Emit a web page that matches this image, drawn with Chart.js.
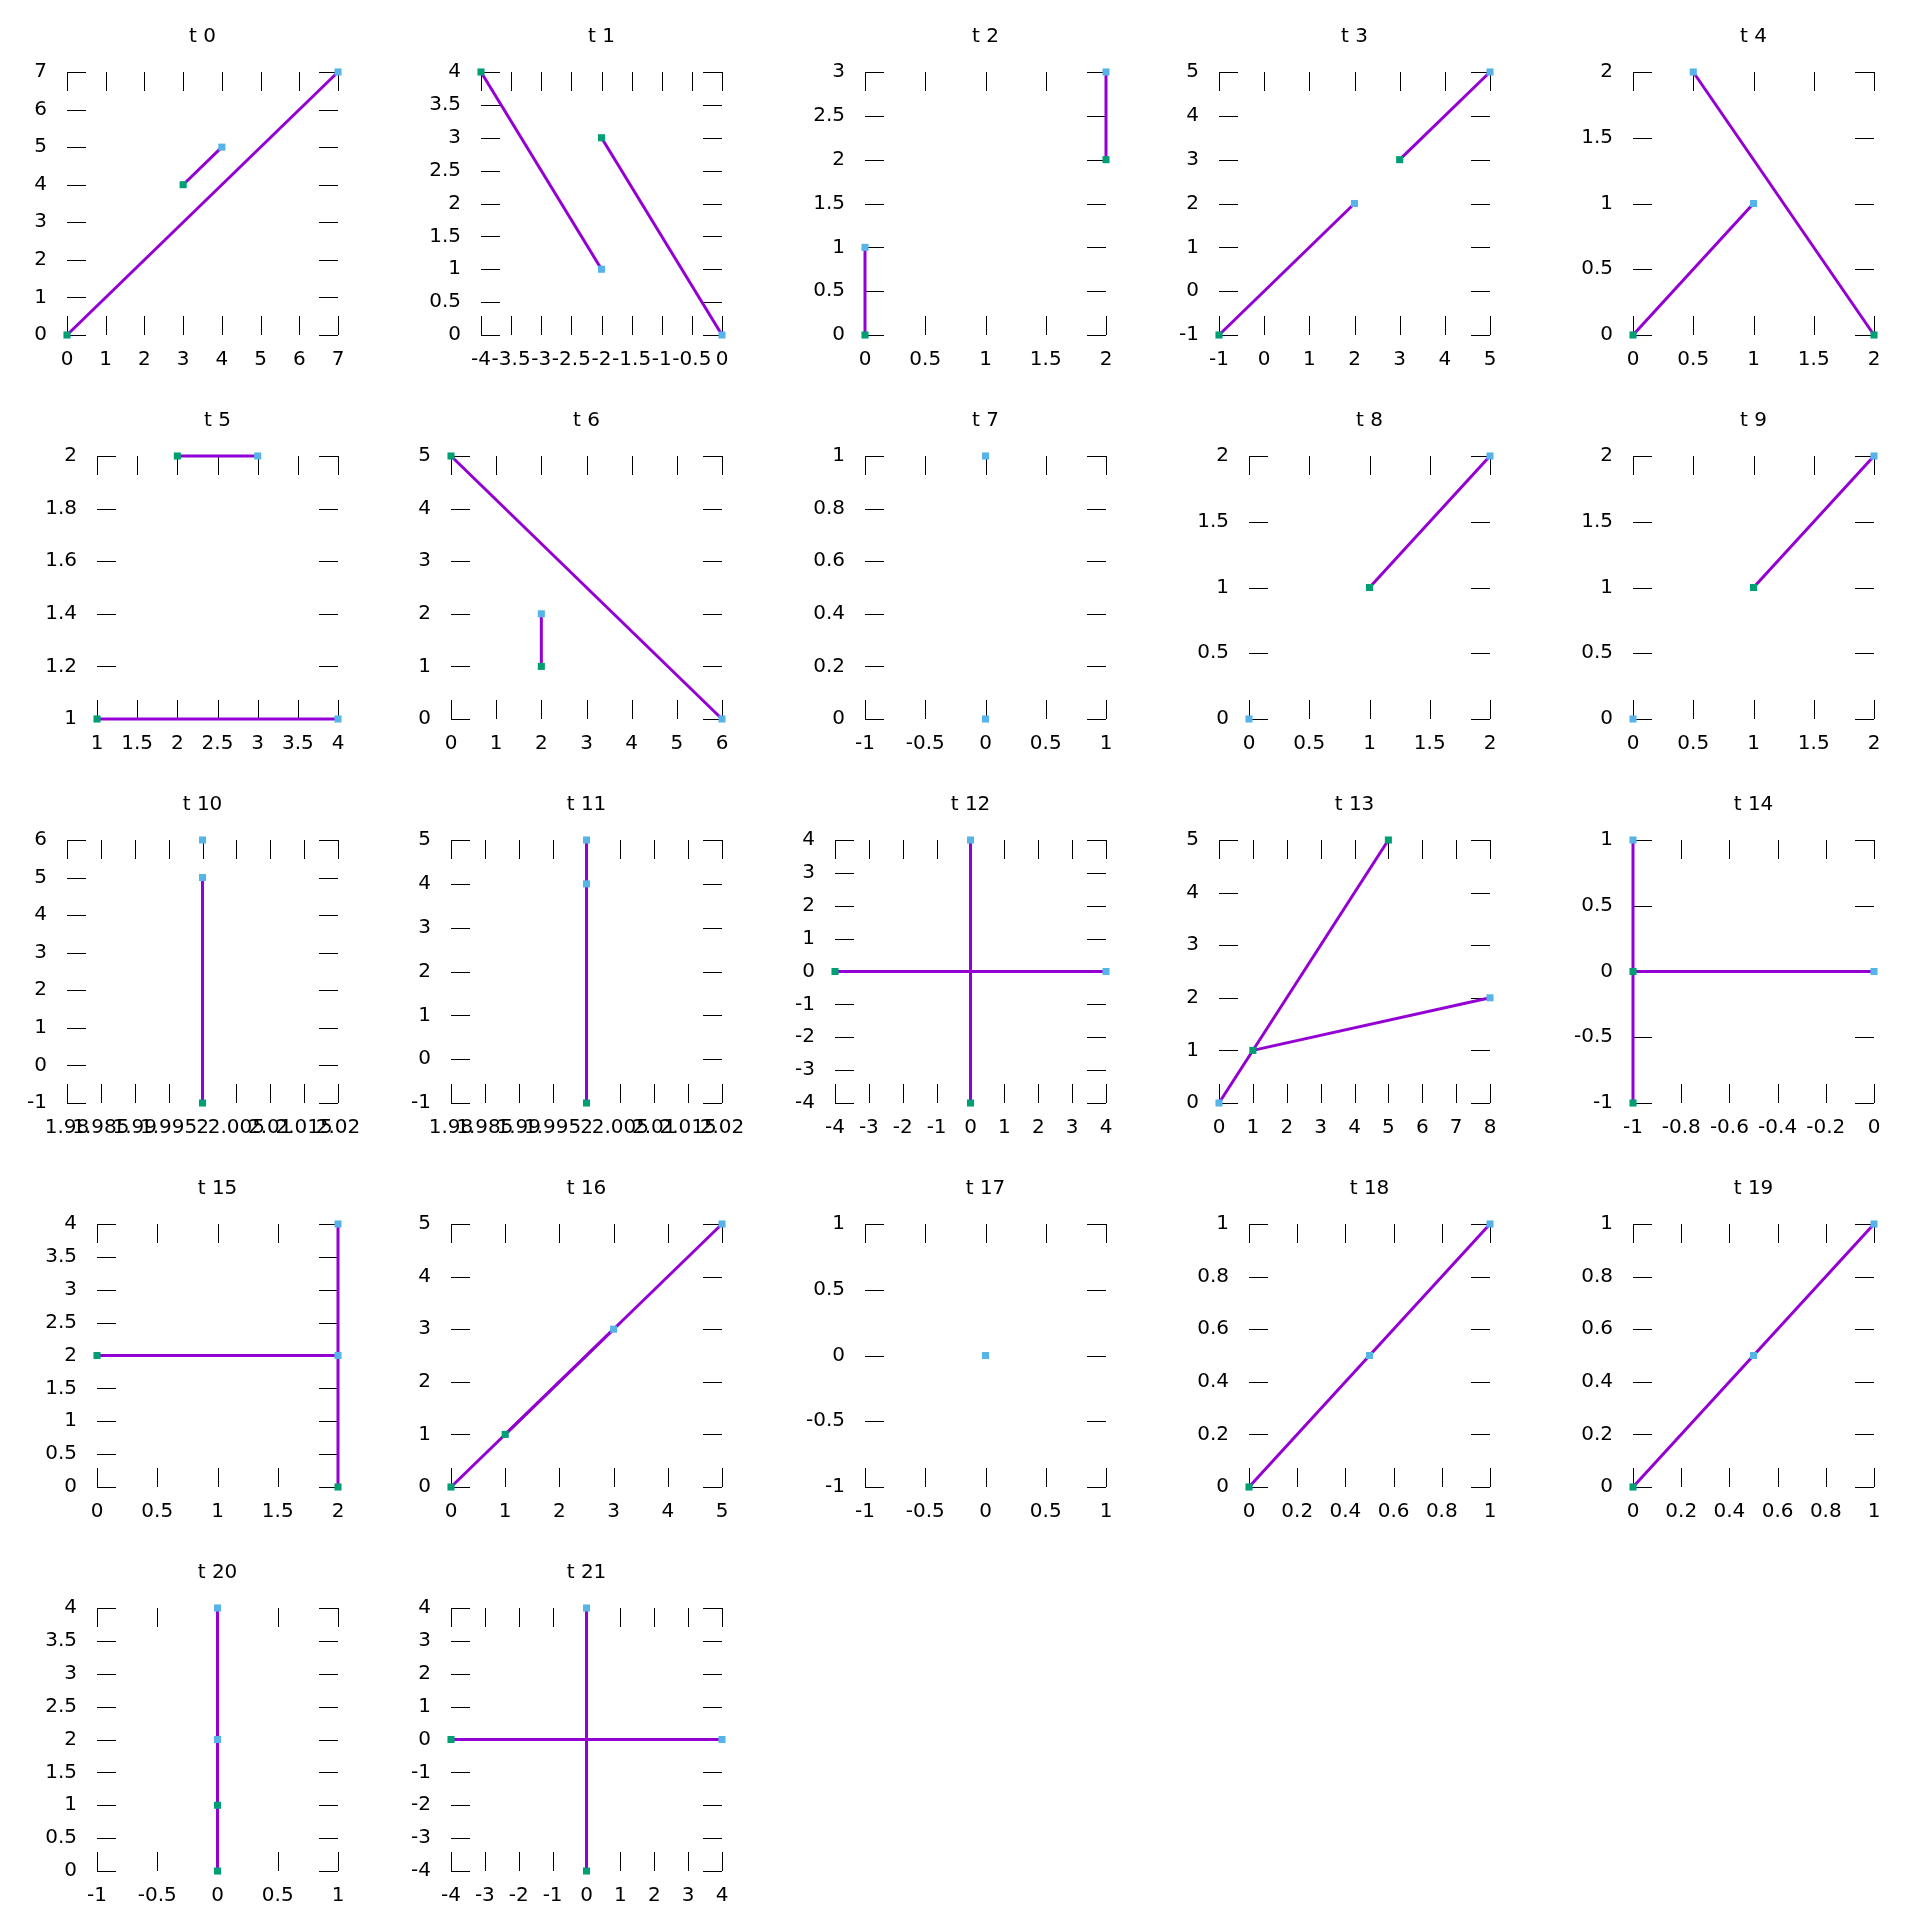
<!DOCTYPE html>
<html>
<head>
<meta charset="utf-8">
<title>t 0 - t 21</title>
<script src="https://cdn.jsdelivr.net/npm/chart.js@4.4.1/dist/chart.umd.min.js"></script>
<style>
  html, body { margin: 0; padding: 0; background: #fff; }
  #grid { position: relative; width: 1920px; height: 1920px; background: #fff; }
  #grid canvas { position: absolute; }
</style>
</head>
<body>
<div id="grid"></div>
<script>
// Títulos de cada panel
const titulos = ['t 0','t 1','t 2','t 3','t 4','t 5','t 6','t 7','t 8','t 9','t 10',
                 't 11','t 12','t 13','t 14','t 15','t 16','t 17','t 18','t 19','t 20','t 21'];

// Marcas del eje X de cada panel (el primero y el último son los límites)
const xTicks = [
  [0,1,2,3,4,5,6,7],
  [-4,-3.5,-3,-2.5,-2,-1.5,-1,-0.5,0],
  [0,0.5,1,1.5,2],
  [-1,0,1,2,3,4,5],
  [0,0.5,1,1.5,2],
  [1,1.5,2,2.5,3,3.5,4],
  [0,1,2,3,4,5,6],
  [-1,-0.5,0,0.5,1],
  [0,0.5,1,1.5,2],
  [0,0.5,1,1.5,2],
  [1.98,1.985,1.99,1.995,2,2.005,2.01,2.015,2.02],
  [1.98,1.985,1.99,1.995,2,2.005,2.01,2.015,2.02],
  [-4,-3,-2,-1,0,1,2,3,4],
  [0,1,2,3,4,5,6,7,8],
  [-1,-0.8,-0.6,-0.4,-0.2,0],
  [0,0.5,1,1.5,2],
  [0,1,2,3,4,5],
  [-1,-0.5,0,0.5,1],
  [0,0.2,0.4,0.6,0.8,1],
  [0,0.2,0.4,0.6,0.8,1],
  [-1,-0.5,0,0.5,1],
  [-4,-3,-2,-1,0,1,2,3,4]
];

// Marcas del eje Y de cada panel
const yTicks = [
  [0,1,2,3,4,5,6,7],
  [0,0.5,1,1.5,2,2.5,3,3.5,4],
  [0,0.5,1,1.5,2,2.5,3],
  [-1,0,1,2,3,4,5],
  [0,0.5,1,1.5,2],
  [1,1.2,1.4,1.6,1.8,2],
  [0,1,2,3,4,5],
  [0,0.2,0.4,0.6,0.8,1],
  [0,0.5,1,1.5,2],
  [0,0.5,1,1.5,2],
  [-1,0,1,2,3,4,5,6],
  [-1,0,1,2,3,4,5],
  [-4,-3,-2,-1,0,1,2,3,4],
  [0,1,2,3,4,5],
  [-1,-0.5,0,0.5,1],
  [0,0.5,1,1.5,2,2.5,3,3.5,4],
  [0,1,2,3,4,5],
  [-1,-0.5,0,0.5,1],
  [0,0.2,0.4,0.6,0.8,1],
  [0,0.2,0.4,0.6,0.8,1],
  [0,0.5,1,1.5,2,2.5,3,3.5,4],
  [-4,-3,-2,-1,0,1,2,3,4]
];

// Segmentos [x1, y1, x2, y2]: inicio en verde, fin en azul
const segmentos = [
  [[0,0,7,7],[3,4,4,5]],
  [[-4,4,-2,1],[-2,3,0,0]],
  [[0,0,0,1],[2,2,2,3]],
  [[-1,-1,2,2],[3,3,5,5]],
  [[0,0,1,1],[2,0,0.5,2]],
  [[1,1,4,1],[2,2,3,2]],
  [[0,5,6,0],[2,1,2,2]],
  [],
  [[1,1,2,2]],
  [[1,1,2,2]],
  [[2,-1,2,5]],
  [[2,-1,2,5]],
  [[-4,0,4,0],[0,-4,0,4]],
  [[5,5,0,0],[1,1,8,2]],
  [[-1,-1,-1,1],[-1,0,0,0]],
  [[0,2,2,2],[2,0,2,4]],
  [[0,0,5,5],[1,1,3,3]],
  [],
  [[0,0,1,1]],
  [[0,0,1,1]],
  [[0,0,0,4],[0,1,0,2]],
  [[-4,0,4,0],[0,-4,0,4]]
];

// Puntos azules sin segmento
const puntosSueltos = [
  [], [], [], [], [], [], [],
  [[0,0],[0,1]],
  [[0,0]],
  [[0,0]],
  [[2,6]],
  [[2,4]],
  [], [], [], [], [],
  [[0,0]],
  [[0.5,0.5]],
  [[0.5,0.5]],
  [], []
];

const MORADO = '#9400d3';
const VERDE = '#009e73';
const AZUL = '#56b4e9';
const PANEL = 384;
const LARGO_TICK = 19;

Chart.defaults.font.family = "'DejaVu Sans', sans-serif";
Chart.defaults.font.size = 20;
Chart.defaults.color = '#000';

// Ticks hacia dentro en los cuatro lados, como en gnuplot
const ticksDentro = {
  id: 'ticksDentro',
  beforeDatasetsDraw(chart) {
    const {ctx, chartArea: a, scales: {x, y}} = chart;
    ctx.save();
    ctx.strokeStyle = '#000';
    ctx.lineWidth = 1;
    ctx.beginPath();
    x.ticks.forEach(t => {
      const px = Math.round(x.getPixelForValue(t.value)) + 0.5;
      ctx.moveTo(px, a.bottom); ctx.lineTo(px, a.bottom - LARGO_TICK);
      ctx.moveTo(px, a.top); ctx.lineTo(px, a.top + LARGO_TICK);
    });
    y.ticks.forEach(t => {
      const py = Math.round(y.getPixelForValue(t.value)) + 0.5;
      ctx.moveTo(a.left, py); ctx.lineTo(a.left + LARGO_TICK, py);
      ctx.moveTo(a.right, py); ctx.lineTo(a.right - LARGO_TICK, py);
    });
    ctx.stroke();
    ctx.restore();
  }
};

const grid = document.getElementById('grid');

titulos.forEach((titulo, i) => {
  const canvas = document.createElement('canvas');
  canvas.width = PANEL;
  canvas.height = PANEL;
  canvas.style.left = (i % 5) * PANEL + 'px';
  canvas.style.top = Math.floor(i / 5) * PANEL + 'px';
  grid.appendChild(canvas);

  // margen izquierdo según el largo de las etiquetas del eje Y
  const largo = Math.max(...yTicks[i].map(v => String(v).length));
  const izquierda = largo <= 2 ? 67 : 97;

  const datasets = [];
  segmentos[i].forEach(s => {
    datasets.push({
      data: [{x: s[0], y: s[1]}, {x: s[2], y: s[3]}],
      showLine: true,
      borderColor: MORADO,
      borderWidth: 3,
      pointRadius: 0,
      clip: false,
      order: 3
    });
  });
  datasets.push({
    data: segmentos[i].map(s => ({x: s[0], y: s[1]})),
    pointStyle: 'rect',
    pointRadius: 5,
    backgroundColor: VERDE,
    borderWidth: 0,
    clip: false,
    order: 2
  });
  datasets.push({
    data: segmentos[i].map(s => ({x: s[2], y: s[3]}))
      .concat(puntosSueltos[i].map(p => ({x: p[0], y: p[1]}))),
    pointStyle: 'rect',
    pointRadius: 5,
    backgroundColor: AZUL,
    borderWidth: 0,
    clip: false,
    order: 1
  });

  new Chart(canvas.getContext('2d'), {
    type: 'scatter',
    data: { datasets: datasets },
    options: {
      responsive: false,
      animation: false,
      events: [],
      layout: { padding: { left: 0, right: 46, top: 0, bottom: 0 } },
      plugins: {
        legend: { display: false },
        tooltip: { enabled: false },
        title: {
          display: true,
          text: titulo,
          fullSize: false,
          color: '#000',
          font: { size: 20, weight: 'normal' },
          padding: { top: 24.5, bottom: 23.5 }
        }
      },
      scales: {
        x: {
          type: 'linear',
          min: xTicks[i][0],
          max: xTicks[i][xTicks[i].length - 1],
          grid: { display: false, drawTicks: false },
          border: { display: false },
          afterBuildTicks: s => { s.ticks = xTicks[i].map(v => ({value: v})); },
          afterFit: s => { s.height = 49; },
          ticks: {
            autoSkip: false,
            maxRotation: 0,
            minRotation: 0,
            padding: 13,
            callback: v => String(v)
          }
        },
        y: {
          type: 'linear',
          min: yTicks[i][0],
          max: yTicks[i][yTicks[i].length - 1],
          grid: { display: false, drawTicks: false },
          border: { display: false },
          afterBuildTicks: s => { s.ticks = yTicks[i].map(v => ({value: v})); },
          afterFit: s => { s.width = izquierda; },
          ticks: {
            autoSkip: false,
            padding: 20,
            callback: v => String(v)
          }
        }
      }
    },
    plugins: [ticksDentro]
  });
});
</script>
</body>
</html>
